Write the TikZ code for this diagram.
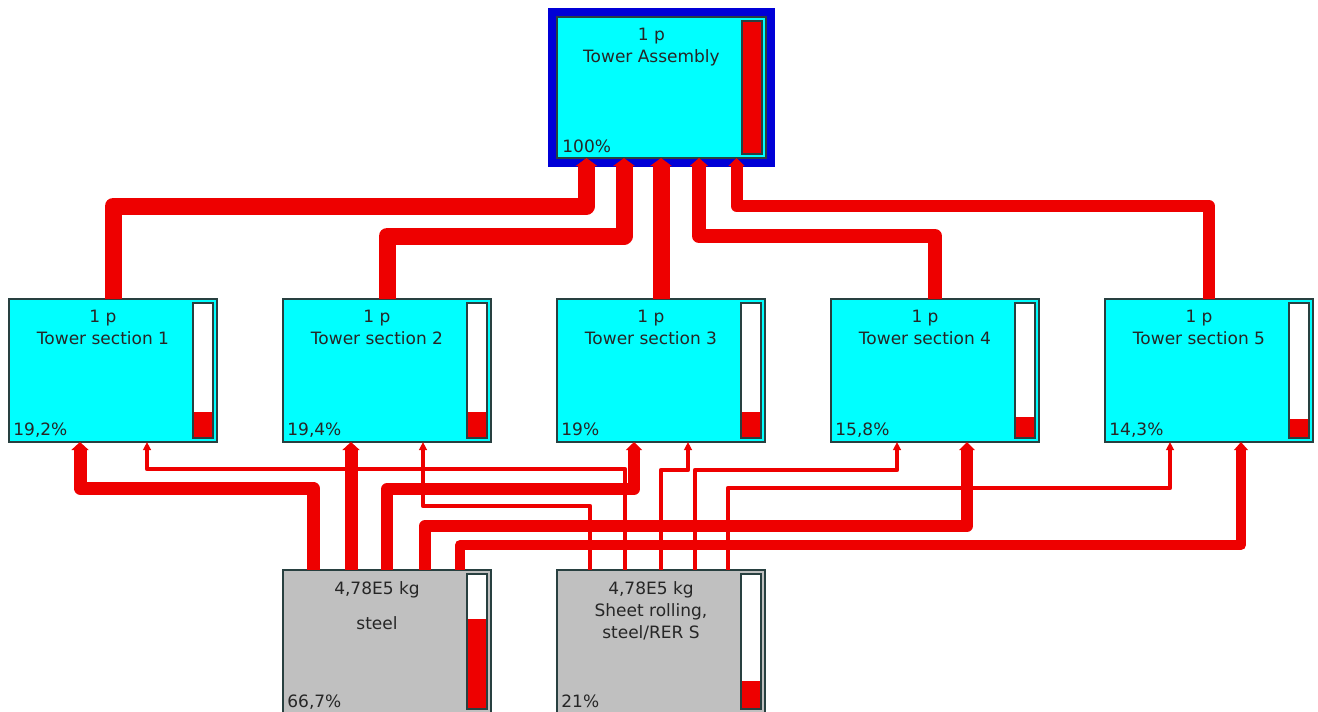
\documentclass[tikz,border=0pt]{standalone}
\usepackage{fontspec}
\setmainfont{DejaVu Sans}
\usetikzlibrary{arrows.meta, positioning, calc}
\definecolor{boxcyan}{RGB}{0,255,255}
\definecolor{boxgrey}{RGB}{192,192,192}
\definecolor{frameblue}{RGB}{0,0,215}
\definecolor{flowred}{RGB}{238,0,0}
\definecolor{edge}{RGB}{40,64,64}

\begin{document}
\begin{tikzpicture}[
    x=0.5pt, y=-0.5pt, font=\fontsize{8.5}{11}\selectfont,
    unit/.style={draw=edge, line width=0.6pt, outer sep=0pt, inner sep=0pt, minimum width=104pt, minimum height=71.5pt},
    sec/.style={unit, fill=boxcyan},
    mat/.style={unit, fill=boxgrey},
    asm/.style={unit, fill=boxcyan, minimum width=104.5pt, minimum height=70.5pt, preaction={draw=frameblue, line width=9pt}},
    title/.style={anchor=north, align=center, inner sep=0pt, text=black!85},
    pct/.style={anchor=base west, inner sep=0pt, text=black!85},
    gauge/.style={draw=edge, line width=0.6pt},
    flow/.style={draw=flowred, line join=round, ->},
    >={Triangle[length=4pt, width=1.3pt 1.1]}]
\useasboundingbox (0,0) rectangle (1318,712);

% process boxes
\node[asm] (top) at (661.5,87.5) {};
\node[sec] (sec1) at (113,370.5) {};
\node[sec, right=33pt of sec1] (sec2) {};
\node[sec, right=33pt of sec2] (sec3) {};
\node[sec, right=33pt of sec3] (sec4) {};
\node[sec, right=33pt of sec4] (sec5) {};
\node[mat, below=64pt of sec2] (steel) {};
\node[mat, right=33pt of steel] (sheet) {};

% bars
\foreach \n/\f in {top/1, sec1/0.192, sec2/0.194, sec3/0.19, sec4/0.158, sec5/0.143, steel/0.667, sheet/0.21} {
  \coordinate (bl\n) at ($(\n.south east)+(-24,-4)$);
  \coordinate (tr\n) at ($(\n.north east)+(-4,4)$);
  \fill[white] (bl\n) rectangle (tr\n);
  \fill[flowred] (bl\n) rectangle ($(bl\n)!\f!(bl\n |- tr\n)+(20,0)$);
  \draw[gauge] (bl\n) rectangle (tr\n);
}

% texts
\node[title] (topt) at ($(top.north)+(-10,11)$) {1 p\\Tower Assembly};
\node[pct] (topp) at ($(top.south west)+(5,-6)$) {100\%};
\foreach \i/\p in {1/{19,2\%}, 2/{19,4\%}, 3/{19\%}, 4/{15,8\%}, 5/{14,3\%}} {
  \node[title] (sect\i) at ($(sec\i.north)+(-10,11)$) {1 p\\Tower section \i};
  \node[pct] (secp\i) at ($(sec\i.south west)+(4,-7)$) {\p};
}
\node[title] (steelt) at ($(steel.north)+(-10,11)$) {4,78E5 kg\\[6.5pt]steel};
\node[pct] (steelp) at ($(steel.south west)+(4,-6)$) {66,7\%};
\node[title] (sheett) at ($(sheet.north)+(-10,11)$) {4,78E5 kg\\Sheet rolling,\\steel/RER S};
\node[pct] (sheetp) at ($(sheet.south west)+(4,-6)$) {21\%};

% sections -> assembly
\draw[flow, line width=8.5pt] (sec1.north) -- ++(0,-93) -| ($(top.south)+(-75,0)$);
\draw[flow, line width=8.5pt] (sec2.north) -- ++(0,-63) -| ($(top.south)+(-37.5,0)$);
\draw[flow, line width=8.5pt] (sec3.north) -- (sec3.north |- top.south);
\draw[flow, line width=7pt] (sec4.north) -- ++(0,-63) -| ($(top.south)+(37.5,0)$);
\draw[flow, line width=6pt] (sec5.north) -- ++(0,-93) -| ($(top.south)+(75,0)$);

% steel -> sections
\draw[flow, line width=6.5pt] ($(steel.north)+(-74,0)$) -- ++(0,-82) -| ($(sec1.south)+(-33,0)$);
\draw[flow, line width=6.5pt] ($(steel.north)+(-36,0)$) -- ($(sec2.south)+(-36,0)$);
\draw[flow, line width=6pt] (steel.north) -- ++(0,-81) -| ($(sec3.south)+(-27,0)$);
\draw[flow, line width=5.8pt] ($(steel.north)+(38,0)$) -- ++(0,-44) -| ($(sec4.south)+(32,0)$);
\draw[flow, line width=5pt] ($(steel.north)+(73,0)$) -- ++(0,-25) -| ($(sec5.south)+(32,0)$);

% sheet rolling -> sections
\draw[flow, line width=2.3pt] ($(sheet.north)+(-36,0)$) -- ++(0,-101) -| ($(sec1.south)+(34,0)$);
\draw[flow, line width=2.3pt] ($(sheet.north)+(-71,0)$) -- ++(0,-64) -| ($(sec2.south)+(36,0)$);
\draw[flow, line width=2.3pt] (sheet.north) -- ++(0,-100) -| ($(sec3.south)+(27,0)$);
\draw[flow, line width=2.3pt] ($(sheet.north)+(34,0)$) -- ++(0,-100) -| ($(sec4.south)+(-38,0)$);
\draw[flow, line width=2.3pt] ($(sheet.north)+(67,0)$) -- ++(0,-82) -| ($(sec5.south)+(-39,0)$);
\end{tikzpicture}
\end{document}
